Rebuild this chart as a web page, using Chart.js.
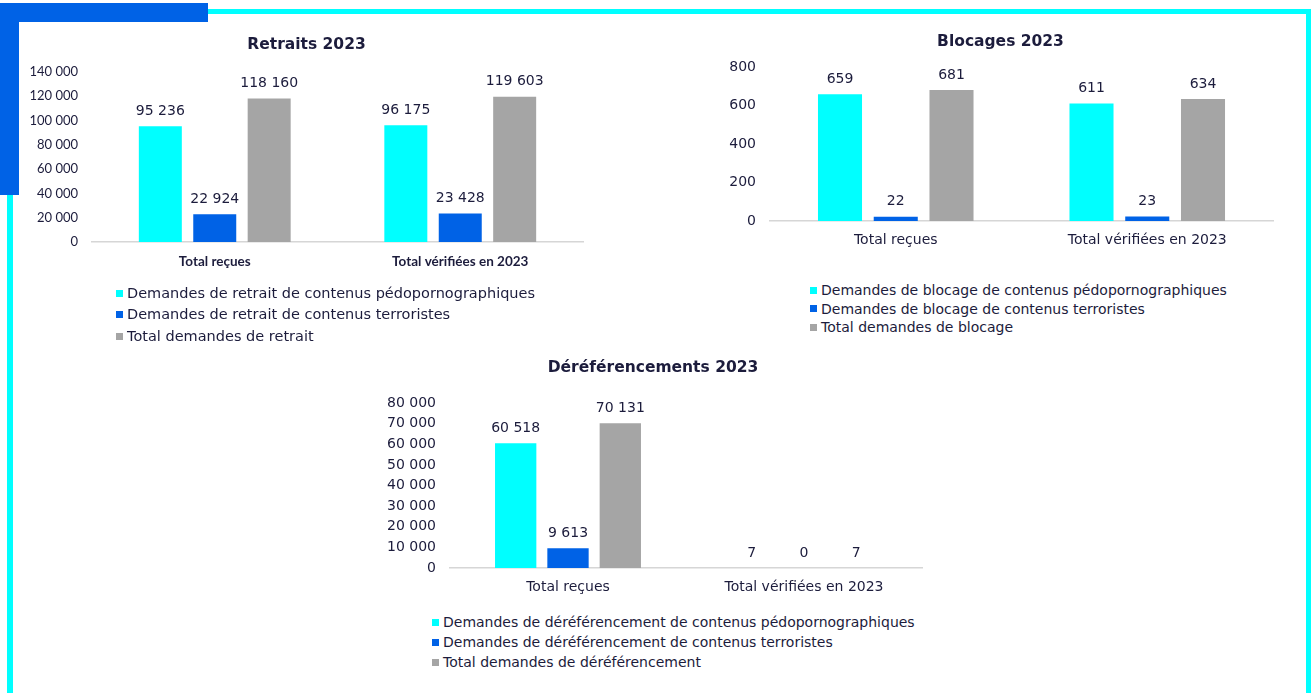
<!DOCTYPE html>
<html>
<head>
<meta charset="utf-8">
<script src="https://cdn.jsdelivr.net/npm/chart.js@4"></script>
<style>
body { margin: 0; background: #fff; width: 1312px; height: 693px; overflow: hidden; position: relative; font-family: "DejaVu Sans"; }
.deco { position: absolute; }
canvas { position: absolute; }
.legend { position: absolute; font-size: 14px; color: #1c1c3c; white-space: nowrap; }
.legend div { display: flex; align-items: center; }
.legend .box { width: 7px; height: 7px; margin-right: 4px; display: inline-block; }
</style>
</head>
<body>
<!-- frame decoration -->
<div class="deco" style="left:208px;top:9px;width:1103px;height:5px;background:#00ffff"></div>
<div class="deco" style="left:1306px;top:9px;width:5px;height:684px;background:#00ffff"></div>
<div class="deco" style="left:7px;top:190px;width:6px;height:503px;background:#00ffff"></div>
<div class="deco" style="left:0;top:3px;width:208px;height:19px;background:#0062e6"></div>
<div class="deco" style="left:0;top:3px;width:19px;height:192px;background:#0062e6"></div>

<canvas id="retraits-chart" width="580" height="262" style="left:20px;top:20px"></canvas>
<canvas id="blocages-chart" width="577" height="246" style="left:716px;top:15px"></canvas>
<canvas id="deref-chart" width="578" height="268" style="left:364px;top:340px"></canvas>

<div class="legend" id="retraits-legend" style="left:116px;top:283px;line-height:21.3px;font-size:14.5px"></div>
<div class="legend" id="blocages-legend" style="left:810px;top:281px;line-height:18.5px"></div>
<div class="legend" id="deref-legend" style="left:432px;top:612px;line-height:20px"></div>

<script>
// data
var categories = ['Total reçues', 'Total vérifiées en 2023'];

var retraitsNames = ['Demandes de retrait de contenus pédopornographiques', 'Demandes de retrait de contenus terroristes', 'Total demandes de retrait'];
var retraitsPedo = [95236, 96175];
var retraitsTerro = [22924, 23428];
var retraitsTotal = [118160, 119603];

var blocagesNames = ['Demandes de blocage de contenus pédopornographiques', 'Demandes de blocage de contenus terroristes', 'Total demandes de blocage'];
var blocagesPedo = [659, 611];
var blocagesTerro = [22, 23];
var blocagesTotal = [681, 634];

var derefNames = ['Demandes de déréférencement de contenus pédopornographiques', 'Demandes de déréférencement de contenus terroristes', 'Total demandes de déréférencement'];
var derefPedo = [60518, 7];
var derefTerro = [9613, 0];
var derefTotal = [70131, 7];

var colors = ['#00ffff', '#0062e6', '#a5a5a5'];
var textColor = '#1c1c3c';

formatNumber = function (v) {
  return String(v).replace(/\B(?=(\d{3})+(?!\d))/g, ' ');
}

// values above the bars
var valueLabels = {
  id: 'valueLabels',
  afterDatasetsDraw: function (chart) {
    var ctx = chart.ctx;
    ctx.save();
    ctx.font = '14px "DejaVu Sans"';
    ctx.fillStyle = textColor;
    ctx.textAlign = 'center';
    ctx.textBaseline = 'middle';
    chart.data.datasets.forEach(function (ds, i) {
      chart.getDatasetMeta(i).data.forEach(function (bar, j) {
        ctx.fillText(formatNumber(ds.data[j]), bar.x, bar.y - 15);
      });
    });
    ctx.restore();
  }
};

makeBarChart = function (id, legendId, opts) {
  var data = { labels: categories, datasets: [] };
  opts.series.forEach(function (s, i) {
    data.datasets.push({
      label: opts.names[i],
      data: s,
      backgroundColor: colors[i],
      categoryPercentage: 0.665,
      barPercentage: 0.79
    });
  });

  var chart = new Chart(document.getElementById(id).getContext('2d'), {
    type: 'bar',
    data: data,
    plugins: [valueLabels],
    options: {
      responsive: false,
      animation: false,
      layout: { padding: { left: opts.padLeft, right: opts.padRight, top: 0, bottom: 0 } },
      plugins: {
        legend: { display: false },
        tooltip: { enabled: false },
        title: {
          display: true,
          text: opts.title,
          color: textColor,
          font: { family: 'DejaVu Sans', size: 15.5, weight: 'bold' },
          padding: { top: opts.titleTop, bottom: opts.titleBottom }
        }
      },
      scales: {
        x: {
          grid: { display: false, drawTicks: false },
          border: { display: true, color: '#d6d6d6', width: 1.5 },
          ticks: { color: textColor, font: opts.xFont, padding: opts.xPad },
          afterFit: function (scale) { scale.height = 40; }
        },
        y: {
          min: 0,
          max: opts.yMax,
          grid: { display: false, drawTicks: false },
          border: { display: false },
          ticks: {
            stepSize: opts.yStep,
            color: textColor,
            font: opts.yFont,
            padding: 14,
            callback: function (v) { return formatNumber(v); }
          },
          afterFit: function (scale) { scale.width = opts.yWidth; }
        }
      }
    }
  });

  // legend, one row per series
  var el = document.getElementById(legendId);
  chart.data.datasets.forEach(function (ds) {
    var row = document.createElement('div');
    var box = document.createElement('span');
    box.className = 'box';
    box.style.background = ds.backgroundColor;
    row.appendChild(box);
    row.appendChild(document.createTextNode(ds.label));
    el.appendChild(row);
  });
  return chart;
}

makeBarChart('retraits-chart', 'retraits-legend', {
  title: 'Retraits 2023',
  names: retraitsNames,
  series: [retraitsPedo, retraitsTerro, retraitsTotal],
  yMax: 140000, yStep: 20000, yWidth: 62,
  padLeft: 10, padRight: 17, titleTop: 15.7, titleBottom: 17.7,
  xPad: 12,
  yFont: { family: 'Lato', size: 13 },
  xFont: { family: 'Lato', size: 13.5, weight: 'bold' }
});

makeBarChart('blocages-chart', 'blocages-legend', {
  title: 'Blocages 2023',
  names: blocagesNames,
  series: [blocagesPedo, blocagesTerro, blocagesTotal],
  yMax: 800, yStep: 200, yWidth: 42,
  padLeft: 12, padRight: 20, titleTop: 17.2, titleBottom: 16.2,
  xPad: 10.6,
  yFont: { family: 'DejaVu Sans', size: 14 },
  xFont: { family: 'DejaVu Sans', size: 14 }
});

makeBarChart('deref-chart', 'deref-legend', {
  title: 'Déréférencements 2023',
  names: derefNames,
  series: [derefPedo, derefTerro, derefTotal],
  yMax: 80000, yStep: 10000, yWidth: 66,
  padLeft: 20, padRight: 20, titleTop: 18.2, titleBottom: 26.2,
  xPad: 10.6,
  yFont: { family: 'DejaVu Sans', size: 14 },
  xFont: { family: 'DejaVu Sans', size: 14 }
});
</script>
</body>
</html>
